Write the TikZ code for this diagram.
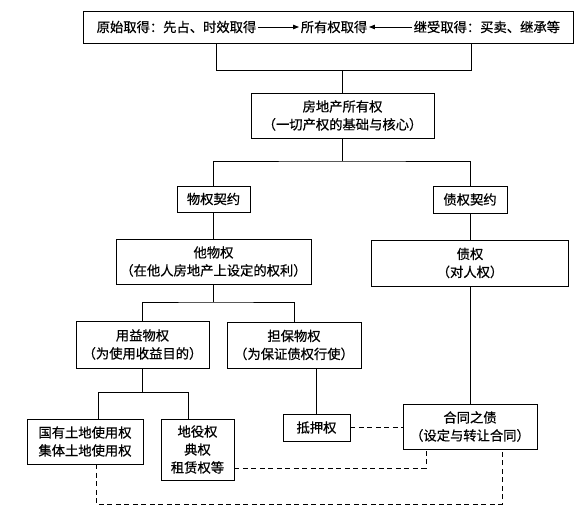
\documentclass[tikz,border=0pt]{standalone}
\usepackage{fontspec}
\newfontfamily\cjk[FakeBold=0.6]{Noto Sans CJK SC}
\usetikzlibrary{arrows.meta,calc}
\begin{document}
\begin{tikzpicture}[x=1pt,y=-1pt,
  box/.style={draw, line width=0.9pt, inner sep=0pt, align=center,
    font=\cjk\fontsize{13.3pt}{18pt}\selectfont},
  lbl/.style={inner sep=1.5pt, font=\cjk\fontsize{13.3pt}{18pt}\selectfont},
  link/.style={line width=0.9pt},
  dlink/.style={line width=0.9pt, dash pattern=on 5pt off 3.5pt},
  arr/.style={line width=0.9pt, -{Triangle[length=6pt,width=4.5pt]}}]
\fill[white] (0,0) rectangle (585,514);
\useasboundingbox (0,0) rectangle (585,514);

% top box
\node[box, minimum width=490pt, minimum height=32pt] (top) at (328,27) {};
\node[lbl] (own) at (334,27) {所有权取得};
\node[lbl, anchor=east] (orig) at (258,27) {原始取得：先占、时效取得};
\node[lbl, anchor=west] (inh) at (412,27) {继受取得：买卖、继承等};
\draw[arr] (orig.east) -- (own.west);
\draw[arr] (inh.west) -- (own.east);

% boxes
\node[box, minimum width=183pt, minimum height=45pt] (fdc) at (342.5,115.5) {房地产所有权\\（一切产权的基础与核心）};
\node[box, minimum width=73pt, minimum height=26pt] (wq) at (213.5,199) {物权契约};
\node[box, minimum width=74pt, minimum height=27pt] (zq) at (470,199.5) {债权契约};
\node[box, minimum width=195pt, minimum height=45pt] (twq) at (213.5,261.5) {他物权\\（在他人房地产上设定的权利）};
\node[box, minimum width=197pt, minimum height=46pt] (zqr) at (470,263) {债权\\（对人权）};
\node[box, minimum width=133pt, minimum height=47pt] (yy) at (142.5,344.5) {用益物权\\（为使用收益目的）};
\node[box, minimum width=134pt, minimum height=46pt] (db) at (294,345) {担保物权\\（为保证债权行使）};
\node[box, minimum width=116pt, minimum height=45pt] (gy) at (85,441.5) {国有土地使用权\\集体土地使用权};
\node[box, minimum width=73pt, minimum height=61pt] (dy) at (197.5,449.5) {地役权\\典权\\租赁权等};
\node[box, minimum width=67pt, minimum height=27pt] (dya) at (316.5,427.5) {抵押权};
\node[box, minimum width=134pt, minimum height=45pt] (ht) at (470,426.5) {合同之债\\（设定与转让合同）};

% solid connectors
\coordinate (jA) at (216,70);
\coordinate (jB) at (471,70);
\draw[link] (top.south -| jA) -- (jA) -- (jB) -- (top.south -| jB);
\draw[link] (fdc.north) -- (fdc.north |- jA);

\coordinate (jC) at (342.5,161);
\draw[link] (fdc.south) -- (jC);
\draw[link] (wq.north) |- (jC) -| (zq.north);
\draw[link] (wq.south) -- (twq.north);
\draw[link] (zq.south) -- (zqr.north);

\coordinate (jD) at (213.5,302);
\draw[link] (twq.south) -- (jD);
\draw[link] (yy.north) |- (jD) -| (db.north);
\draw[link] (dya.north) -- (dya.north |- db.south);

\coordinate (jE) at (142.5,392);
\coordinate (jE1) at (98,392);
\coordinate (jE2) at (188,392);
\draw[link] (yy.south) -- (jE);
\draw[link] (gy.north -| jE1) -- (jE1) -- (jE2) -- (dy.north -| jE2);

\draw[link] (zqr.south) -- (ht.north);

% dashed connectors
\draw[dlink] (dya.east) -- (dya.east -| ht.west);
\coordinate (dA) at (426,468);
\draw[dlink] (dy.east |- dA) -- (dA) -- (ht.south -| dA);
\coordinate (dB) at (96,504);
\coordinate (dC) at (502,504);
\draw[dlink] (gy.south -| dB) -- (dB) -- (dC) -- (ht.south -| dC);
\end{tikzpicture}
\end{document}
